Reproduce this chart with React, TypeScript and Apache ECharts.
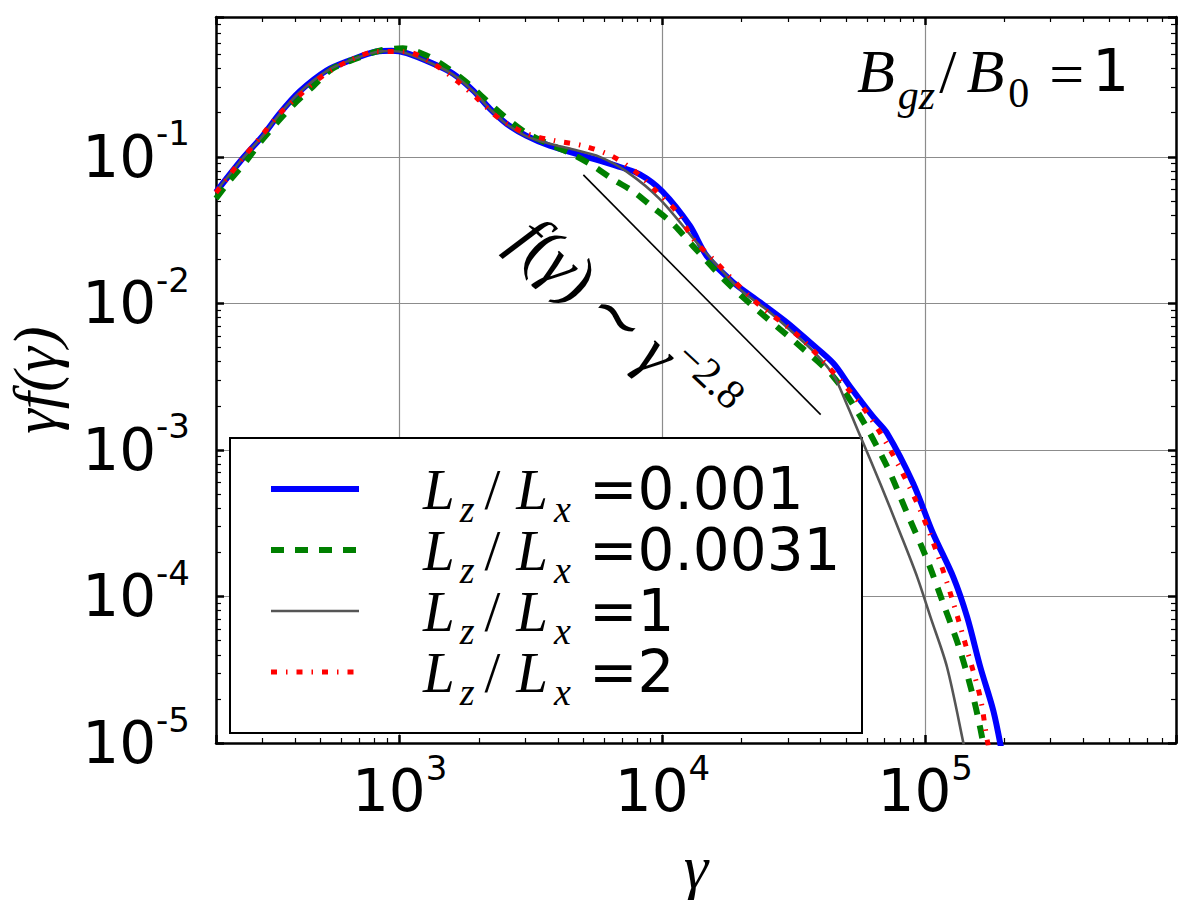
import React, { useEffect, useRef } from 'react';
import * as echarts from 'echarts';

// ---------- data ----------
const gammaBlue = [200, 252, 301, 349, 416, 527, 646, 816, 933, 1064, 1337, 1592, 1905, 2203, 2552, 3040, 3724, 4990, 6690, 8200, 10000, 12700, 14760, 18600, 23500, 29800, 36500, 44700, 51800, 63400, 71600, 90000, 107000, 128000, 144500, 162000, 181600, 195000];
const valBlue = [0.0575, 0.097, 0.139, 0.197, 0.279, 0.388, 0.455, 0.523, 0.53, 0.51, 0.433, 0.37, 0.283, 0.213, 0.168, 0.139, 0.119, 0.1015, 0.0867, 0.076, 0.058, 0.034, 0.021, 0.0139, 0.0102, 0.0074, 0.0054, 0.0039, 0.0027, 0.00168, 0.0013, 0.00059, 0.00027, 0.000135, 7.2e-5, 3.3e-5, 1.66e-5, 9e-6];

const gammaGreen = [200, 225, 261, 298, 344, 405, 467, 556, 685, 839, 1028, 1265, 1528, 1820, 2140, 2510, 2990, 3670, 4510, 5450, 6500, 7750, 9230, 10970, 13100, 17600, 23500, 33400, 44700, 56500, 71600, 85300, 101800, 117000, 135800, 152500, 162000, 170000];
const valGreen = [0.052, 0.0686, 0.094, 0.129, 0.174, 0.238, 0.301, 0.401, 0.469, 0.53, 0.55, 0.492, 0.401, 0.316, 0.242, 0.188, 0.148, 0.123, 0.105, 0.0867, 0.07, 0.058, 0.045, 0.0348, 0.0245, 0.0139, 0.0087, 0.0051, 0.00316, 0.0017, 0.00077, 0.00037, 0.000177, 9e-5, 4.27e-5, 2.04e-5, 1.26e-5, 8e-6];

const gammaGray = [200, 252, 301, 349, 416, 527, 646, 816, 933, 1064, 1337, 1592, 1905, 2203, 2552, 3040, 3724, 4500, 5770, 7330, 9770, 13900, 19700, 25000, 31400, 38000, 44700, 50000, 56000, 67400, 80300, 93300, 104800, 121000, 139700, 145000];
const valGray = [0.058, 0.097, 0.139, 0.196, 0.276, 0.385, 0.455, 0.52, 0.528, 0.508, 0.43, 0.365, 0.28, 0.212, 0.167, 0.138, 0.123, 0.113, 0.1, 0.079, 0.0515, 0.0245, 0.0125, 0.009, 0.0063, 0.0046, 0.00325, 0.0021, 0.0013, 0.00059, 0.00027, 0.000135, 7.2e-5, 3.3e-5, 1e-5, 7e-6];

const gammaRed = [200, 215, 252, 298, 349, 423, 518, 646, 816, 1064, 1337, 1644, 1980, 2400, 3040, 3890, 4990, 6400, 7900, 9550, 11350, 13100, 15600, 22100, 33400, 47400, 59900, 73600, 93300, 111000, 128000, 144500, 162000, 172000, 178000];
const valRed = [0.057, 0.0674, 0.097, 0.139, 0.197, 0.27, 0.365, 0.455, 0.523, 0.52, 0.433, 0.332, 0.249, 0.182, 0.144, 0.129, 0.119, 0.1015, 0.079, 0.0575, 0.042, 0.0274, 0.02, 0.0106, 0.00585, 0.003, 0.0018, 0.001, 0.00043, 0.000197, 9e-5, 4.27e-5, 2.04e-5, 1.05e-5, 8e-6];

// reference power-law segment  f(γ) ~ γ^-2.8
const slopeGamma = [5000, 40000];
const slopeVal = [0.0753, 0.00174];

const legendValues = ['0.001', '0.0031', '1', '2'];
const seriesNames = legendValues.map((v) => 'L_z/L_x=' + v);

// axis ranges and ticks
const xMin = 200;
const xMax = 900000;
const yMin = 1e-5;
const yMax = 0.9;
const xMinorTicks = [300, 400, 500, 600, 700, 800, 900, 2000, 3000, 4000, 5000, 6000, 7000, 8000, 9000, 20000, 30000, 40000, 50000, 60000, 70000, 80000, 90000, 200000, 300000, 400000, 500000, 600000, 700000, 800000];
const yMinorTicks = [2e-5, 3e-5, 4e-5, 5e-5, 6e-5, 7e-5, 8e-5, 9e-5, 2e-4, 3e-4, 4e-4, 5e-4, 6e-4, 7e-4, 8e-4, 9e-4, 2e-3, 3e-3, 4e-3, 5e-3, 6e-3, 7e-3, 8e-3, 9e-3, 0.02, 0.03, 0.04, 0.05, 0.06, 0.07, 0.08, 0.09, 0.2, 0.3, 0.4, 0.5, 0.6, 0.7, 0.8];

const SERIF = "'Liberation Serif', 'DejaVu Serif', serif";
const SANS = "'DejaVu Sans', sans-serif";

const pairs = (xs: number[], ys: number[]) => xs.map((x, i) => [x, ys[i]]);

const powLabel = (v: number) => {
  const e = Math.log10(v);
  const r = Math.round(e);
  if (Math.abs(e - r) > 1e-6) return '';
  return '{b|10}{s|' + (r < 0 ? '-' + Math.abs(r) : String(r)) + '}';
};

const tickRich = {
  b: { fontFamily: SANS, fontSize: 58, lineHeight: 58, color: '#000' },
  s: { fontFamily: SANS, fontSize: 34, lineHeight: 58, color: '#000', padding: [0, 0, 47, 0] },
};

export default function App() {
  const ref = useRef<HTMLDivElement>(null);

  useEffect(() => {
    const chart = echarts.init(ref.current as HTMLDivElement, null, { renderer: 'svg' });

    const frameLine = { show: true, onZero: false, lineStyle: { color: '#000', width: 2.5 } };
    const majorTick = { show: true, inside: true, length: 8, lineStyle: { color: '#000', width: 2.5 } };
    const minorTick = (vals: number[]) => ({
      show: true,
      inside: true,
      length: 5,
      customValues: vals.map((v) => Math.log10(v)),
      lineStyle: { color: '#000', width: 1.2 },
    });
    const hidden = { show: false };

    const lineSeries = (name: string, xs: number[], ys: number[], color: string, width: number, type: any) => ({
      name,
      type: 'line',
      data: pairs(xs, ys),
      symbol: 'none',
      showSymbol: false,
      smooth: 0.3,
      clip: true,
      lineStyle: { color, width, type, cap: 'butt' },
      itemStyle: { color },
      emphasis: { disabled: true },
    });

    const option: any = {
      animation: false,
      backgroundColor: '#fff',
      grid: { left: 216, top: 17, right: 24, bottom: 157, containLabel: false, outerBoundsMode: 'none' },
      xAxis: [
        {
          type: 'log',
          logBase: 10,
          min: xMin,
          max: xMax,
          position: 'bottom',
          axisLine: frameLine,
          axisTick: majorTick,
          axisLabel: { formatter: powLabel, margin: 19, rich: tickRich },
          splitLine: { show: true, lineStyle: { color: '#8c8c8c', width: 1.2 } },
          name: 'γ',
          nameLocation: 'middle',
          nameGap: 85,
          nameTextStyle: { fontFamily: SERIF, fontStyle: 'italic', fontSize: 62, color: '#000' },
        },
        {
          type: 'value',
          min: Math.log10(xMin),
          max: Math.log10(xMax),
          position: 'bottom',
          axisLine: { show: false, onZero: false },
          axisTick: minorTick(xMinorTicks),
          axisLabel: hidden,
          splitLine: hidden,
        },
        {
          type: 'log',
          logBase: 10,
          min: xMin,
          max: xMax,
          position: 'top',
          axisLine: frameLine,
          axisTick: majorTick,
          axisLabel: hidden,
          splitLine: hidden,
        },
        {
          type: 'value',
          min: Math.log10(xMin),
          max: Math.log10(xMax),
          position: 'top',
          axisLine: { show: false, onZero: false },
          axisTick: minorTick(xMinorTicks),
          axisLabel: hidden,
          splitLine: hidden,
        },
      ],
      yAxis: [
        {
          type: 'log',
          logBase: 10,
          min: yMin,
          max: yMax,
          position: 'left',
          axisLine: frameLine,
          axisTick: majorTick,
          axisLabel: { formatter: powLabel, margin: 26, rich: tickRich },
          splitLine: { show: true, lineStyle: { color: '#8c8c8c', width: 1.2 } },
          name: 'γf(γ)',
          nameLocation: 'middle',
          nameGap: 150,
          nameTextStyle: { fontFamily: SERIF, fontStyle: 'italic', fontSize: 62, color: '#000' },
        },
        {
          type: 'value',
          min: Math.log10(yMin),
          max: Math.log10(yMax),
          position: 'left',
          axisLine: { show: false, onZero: false },
          axisTick: minorTick(yMinorTicks),
          axisLabel: hidden,
          splitLine: hidden,
        },
        {
          type: 'log',
          logBase: 10,
          min: yMin,
          max: yMax,
          position: 'right',
          axisLine: frameLine,
          axisTick: majorTick,
          axisLabel: hidden,
          splitLine: hidden,
        },
        {
          type: 'value',
          min: Math.log10(yMin),
          max: Math.log10(yMax),
          position: 'right',
          axisLine: { show: false, onZero: false },
          axisTick: minorTick(yMinorTicks),
          axisLabel: hidden,
          splitLine: hidden,
        },
      ],
      legend: {
        data: seriesNames,
        orient: 'vertical',
        left: 268,
        top: 458,
        padding: 0,
        itemGap: -9,
        itemWidth: 88,
        itemHeight: 14,
        selectedMode: false,
        lineStyle: { width: 'inherit' },
        itemStyle: { opacity: 0, borderWidth: 0 },
        formatter: (name: string) => {
          const v = name.split('=')[1];
          return '{g| }{i|L}{s|z}{sl|/}{i|L}{s2|x}{n|=' + v + '}';
        },
        textStyle: {
          color: '#000',
          lineHeight: 62,
          rich: {
            g: { width: 59, fontSize: 10, lineHeight: 62 },
            i: { fontFamily: SERIF, fontStyle: 'italic', fontSize: 57, lineHeight: 62, color: '#000' },
            s: { fontFamily: SERIF, fontStyle: 'italic', fontSize: 38, lineHeight: 62, height: 22, verticalAlign: 'bottom', color: '#000', padding: [0, 0, 0, 5] },
            s2: { fontFamily: SERIF, fontStyle: 'italic', fontSize: 38, lineHeight: 62, height: 22, verticalAlign: 'bottom', color: '#000', padding: [0, 0, 0, 6] },
            sl: { fontFamily: SERIF, fontSize: 57, lineHeight: 62, color: '#000', padding: [0, 16, 0, 10] },
            n: { fontFamily: SANS, fontSize: 58, lineHeight: 62, color: '#000', padding: [0, 0, 0, 18] },
          },
        },
      },
      graphic: [
        {
          type: 'rect',
          z: 3,
          shape: { x: 230, y: 438, width: 632, height: 295 },
          style: { fill: '#fff', stroke: '#000', lineWidth: 2 },
        },
        {
          type: 'text',
          z: 5,
          style: {
            x: 857,
            y: 71,
            align: 'left',
            verticalAlign: 'middle',
            text: '{B|B}{sub|gz}{sl|/}{B2|B}{sub0|0}{eq|=}{one|1}',
            rich: {
              B: { fontFamily: SERIF, fontStyle: 'italic', fontSize: 62, lineHeight: 62, color: '#000' },
              B2: { fontFamily: SERIF, fontStyle: 'italic', fontSize: 62, lineHeight: 62, color: '#000', padding: [0, 0, 0, 6] },
              sub: { fontFamily: SERIF, fontStyle: 'italic', fontSize: 42, lineHeight: 62, color: '#000', padding: [48, 0, 0, 3] },
              sub0: { fontFamily: SERIF, fontSize: 42, lineHeight: 62, color: '#000', padding: [44, 0, 0, 4] },
              sl: { fontFamily: SERIF, fontSize: 62, lineHeight: 62, color: '#000', padding: [0, 4, 0, 4] },
              eq: { fontFamily: SERIF, fontSize: 62, lineHeight: 62, color: '#000', padding: [6, 0, 0, 20] },
              one: { fontFamily: SANS, fontSize: 58, lineHeight: 62, color: '#000', padding: [0, 0, 0, 8] },
            },
          },
        },
        {
          type: 'text',
          z: 5,
          x: 624,
          y: 322,
          rotation: -0.75,
          style: {
            x: 0,
            y: 0,
            align: 'center',
            verticalAlign: 'middle',
            text: '{m|f}{t|(}{m|γ}{t|)}{t2|∼}{m|γ}{sup|−2.8}',
            rich: {
              m: { fontFamily: SERIF, fontStyle: 'italic', fontSize: 66, lineHeight: 66, color: '#000' },
              t: { fontFamily: SERIF, fontSize: 66, lineHeight: 66, color: '#000' },
              t2: { fontFamily: SERIF, fontSize: 66, lineHeight: 66, color: '#000', padding: [0, 14, 0, 14] },
              sup: { fontFamily: SERIF, fontSize: 42, lineHeight: 66, color: '#000', padding: [0, 0, 40, 2] },
            },
          },
        },
      ],
      series: [
        lineSeries(seriesNames[0], gammaBlue, valBlue, '#0000ff', 6, 'solid'),
        lineSeries(seriesNames[1], gammaGreen, valGreen, '#008000', 6, [13, 11]),
        lineSeries(seriesNames[2], gammaGray, valGray, '#555555', 2.6, 'solid'),
        lineSeries(seriesNames[3], gammaRed, valRed, '#ff0000', 5, [6, 9, 1.5, 9]),
        {
          name: 'slope',
          type: 'line',
          data: pairs(slopeGamma, slopeVal),
          symbol: 'none',
          lineStyle: { color: '#000', width: 1.6 },
          silent: true,
          z: 2,
        },
      ],
    };

    chart.setOption(option);
    return () => chart.dispose();
  }, []);

  return (
    <div
      ref={ref}
      style={{ position: 'absolute', left: 0, top: 0, width: 1200, height: 900, background: '#fff' }}
    />
  );
}
